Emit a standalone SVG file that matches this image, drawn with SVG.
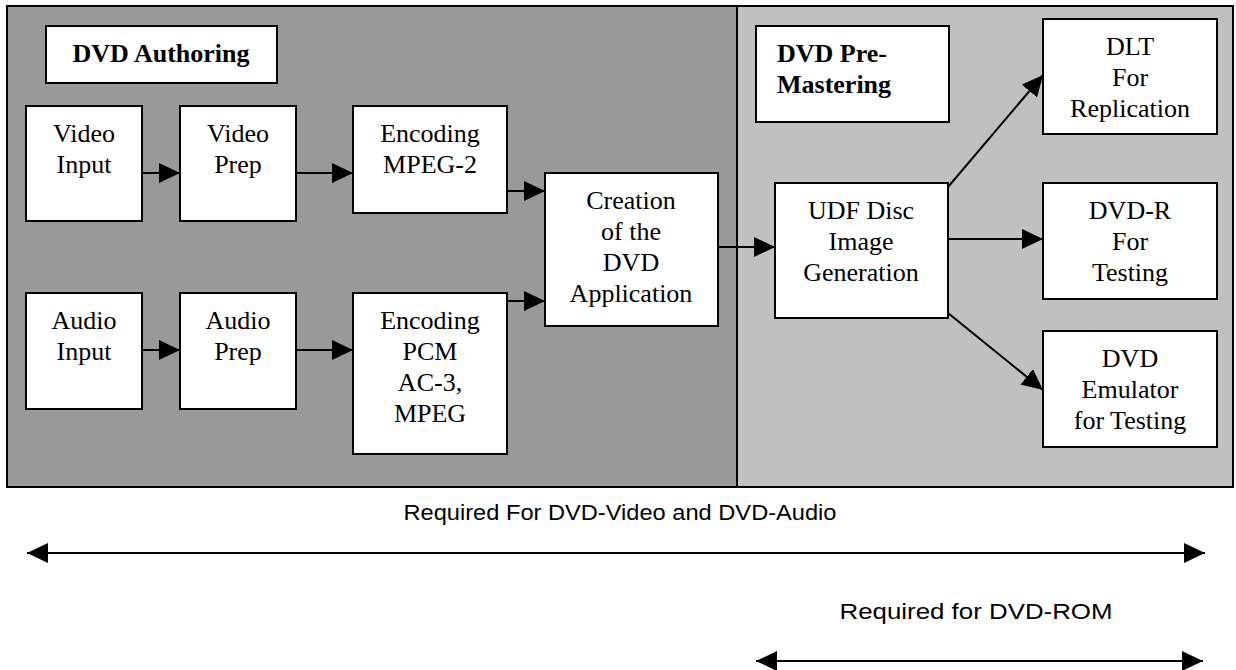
<svg xmlns="http://www.w3.org/2000/svg" width="1236" height="670" viewBox="0 0 1236 670">
<style>
.box{fill:#ffffff;stroke:#000000;stroke-width:2}
.t{font-family:"Liberation Serif","Times New Roman",serif;font-size:26px;fill:#000;text-anchor:middle}
.b{font-family:"Liberation Serif","Times New Roman",serif;font-size:26px;font-weight:bold;fill:#000}
.s{font-family:"Liberation Sans",Arial,sans-serif;font-size:22px;fill:#000;text-anchor:middle}
.c{stroke:#000;stroke-width:2;fill:none;marker-end:url(#ah)}
.d{stroke:#000;stroke-width:2;fill:none;marker-end:url(#ah);marker-start:url(#ahs)}
</style>
<defs>
<marker id="ah" markerUnits="userSpaceOnUse" markerWidth="22" markerHeight="20" refX="21" refY="10" orient="auto">
<path d="M0,0 L21,10 L0,20 z" fill="#000"/>
</marker>
<marker id="ahs" markerUnits="userSpaceOnUse" markerWidth="22" markerHeight="20" refX="0" refY="10" orient="auto">
<path d="M21,0 L0,10 L21,20 z" fill="#000"/>
</marker>
</defs>
<g id="background">
<rect x="7" y="6" width="730" height="481" fill="#999999"/>
<rect x="737" y="6" width="496" height="481" fill="#c0c0c0"/>
<rect x="7" y="6" width="1226" height="481" fill="none" stroke="#000" stroke-width="2"/>
<line x1="737" y1="6" x2="737" y2="487" stroke="#000" stroke-width="2"/>
</g>
<g id="n-authoring">
<rect class="box" x="46" y="26" width="231" height="57"/>
<text class="b" x="161" y="62" text-anchor="middle">DVD Authoring</text>
</g>
<g id="n-video-input">
<rect class="box" x="26" y="106" width="116" height="115"/>
<text class="t" x="84" y="142">Video</text>
<text class="t" x="84" y="173">Input</text>
</g>
<g id="n-video-prep">
<rect class="box" x="180" y="106" width="116" height="115"/>
<text class="t" x="238" y="142">Video</text>
<text class="t" x="238" y="173">Prep</text>
</g>
<g id="n-enc-mpeg2">
<rect class="box" x="353" y="106" width="154" height="107"/>
<text class="t" x="430" y="142">Encoding</text>
<text class="t" x="430" y="173">MPEG-2</text>
</g>
<g id="n-audio-input">
<rect class="box" x="26" y="293" width="116" height="116"/>
<text class="t" x="84" y="329">Audio</text>
<text class="t" x="84" y="360">Input</text>
</g>
<g id="n-audio-prep">
<rect class="box" x="180" y="293" width="116" height="116"/>
<text class="t" x="238" y="329">Audio</text>
<text class="t" x="238" y="360">Prep</text>
</g>
<g id="n-enc-pcm">
<rect class="box" x="353" y="293" width="154" height="161"/>
<text class="t" x="430" y="329">Encoding</text>
<text class="t" x="430" y="360">PCM</text>
<text class="t" x="430" y="391">AC-3,</text>
<text class="t" x="430" y="422">MPEG</text>
</g>
<g id="n-creation">
<rect class="box" x="545" y="173" width="173" height="153"/>
<text class="t" x="631" y="209">Creation</text>
<text class="t" x="631" y="240">of the</text>
<text class="t" x="631" y="271">DVD</text>
<text class="t" x="631" y="302">Application</text>
</g>
<g id="n-premastering">
<rect class="box" x="756" y="26" width="193" height="96"/>
<text class="b" x="777" y="62">DVD Pre-</text>
<text class="b" x="777" y="93">Mastering</text>
</g>
<g id="n-udf">
<rect class="box" x="775" y="183" width="173" height="135"/>
<text class="t" x="861" y="219">UDF Disc</text>
<text class="t" x="861" y="250">Image</text>
<text class="t" x="861" y="281">Generation</text>
</g>
<g id="n-dlt">
<rect class="box" x="1043" y="19" width="174" height="115"/>
<text class="t" x="1130" y="55">DLT</text>
<text class="t" x="1130" y="86">For</text>
<text class="t" x="1130" y="117">Replication</text>
</g>
<g id="n-dvdr">
<rect class="box" x="1043" y="183" width="174" height="116"/>
<text class="t" x="1130" y="219">DVD-R</text>
<text class="t" x="1130" y="250">For</text>
<text class="t" x="1130" y="281">Testing</text>
</g>
<g id="n-emulator">
<rect class="box" x="1043" y="331" width="174" height="116"/>
<text class="t" x="1130" y="367">DVD</text>
<text class="t" x="1130" y="398">Emulator</text>
<text class="t" x="1130" y="429">for Testing</text>
</g>
<g id="connectors">
<line class="c" x1="142" y1="173" x2="180" y2="173"/>
<line class="c" x1="296" y1="173" x2="353" y2="173"/>
<line class="c" x1="142" y1="350" x2="180" y2="350"/>
<line class="c" x1="296" y1="350" x2="353" y2="350"/>
<line class="c" x1="507" y1="191" x2="545" y2="191"/>
<line class="c" x1="507" y1="301" x2="545" y2="301"/>
<line class="c" x1="718" y1="247" x2="775" y2="247"/>
<line class="c" x1="948" y1="187" x2="1043" y2="75"/>
<line class="c" x1="948" y1="239" x2="1043" y2="239"/>
<line class="c" x1="948" y1="313" x2="1043" y2="390"/>
<line class="d" x1="27" y1="553" x2="1205" y2="553"/>
<line class="d" x1="756" y1="661" x2="1203" y2="661"/>
</g>
<g id="labels">
<text class="s" x="620" y="520" textLength="433" lengthAdjust="spacingAndGlyphs">Required For DVD-Video and DVD-Audio</text>
<text class="s" x="976" y="619" textLength="273" lengthAdjust="spacingAndGlyphs">Required for DVD-ROM</text>
</g>
</svg>
